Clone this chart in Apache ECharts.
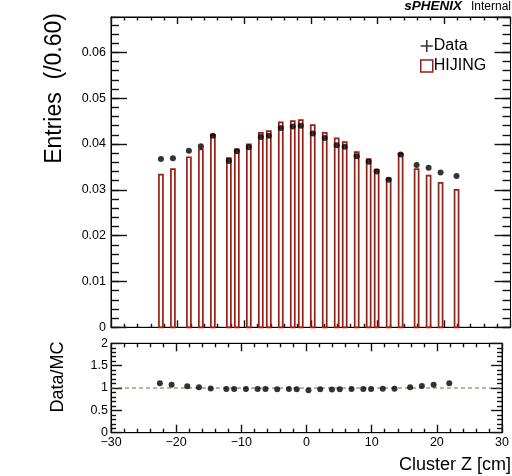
<!DOCTYPE html>
<html>
<head>
<meta charset="utf-8">
<script src="https://cdn.jsdelivr.net/npm/echarts@6/dist/echarts.min.js"></script>
<style>
html,body{margin:0;padding:0;background:#fff;}
#chart{width:512px;height:476px;}
</style>
</head>
<body>
<div id="chart"></div>
<script>
// ---- data ----
const binWidth = 0.6;
const binCenters = [-22.5, -20.7, -18.3, -16.5, -14.7, -12.3, -11.1, -9.3, -7.5, -6.3, -4.5, -2.7, -1.5, 0.3, 2.1, 3.9, 5.1, 6.9, 8.7, 9.9, 11.7, 13.5, 15.9, 17.7, 19.5, 21.9];
const mcValues = [0.0333, 0.0345, 0.0371, 0.0388, 0.0420, 0.0369, 0.0388, 0.0399, 0.0424, 0.0428, 0.0447, 0.0450, 0.0452, 0.0441, 0.0424, 0.0412, 0.0404, 0.0382, 0.0367, 0.0344, 0.0325, 0.0379, 0.0345, 0.0331, 0.0315, 0.0300];
const dataValues = [0.0367, 0.0369, 0.0385, 0.0395, 0.0418, 0.0363, 0.0384, 0.0393, 0.0415, 0.0418, 0.0435, 0.0438, 0.0440, 0.0423, 0.0413, 0.0397, 0.0394, 0.0373, 0.0361, 0.0340, 0.0322, 0.0377, 0.0354, 0.0348, 0.0338, 0.0330];
const ratioValues = [1.105, 1.074, 1.038, 1.015, 0.99, 0.98, 0.98, 0.98, 0.975, 0.975, 0.97, 0.975, 0.97, 0.95, 0.97, 0.965, 0.97, 0.975, 0.98, 0.98, 0.985, 0.985, 1.015, 1.045, 1.074, 1.105];
const refLine = [[-30, 1], [30, 1]];
const xTicks = {min: -30, max: 30, interval: 10};
const yMainRange = {min: 0, max: 0.0677, interval: 0.01, minor: 0.002};
const yRatioRange = {min: 0, max: 2, interval: 0.5};

// ---- styles ----
const FONT = 'Liberation Sans, Arial, Helvetica, sans-serif';
const RED = '#a31a10';
const TICK_W = 1.4;
const lineBlack = () => ({show: true, onZero: false, lineStyle: {color: '#000', width: 1}});
const lineHidden = () => ({show: false, onZero: false});
const tickStyle = () => ({color: '#111', width: TICK_W});

const chart = echarts.init(document.getElementById('chart'), null, {renderer: 'canvas'});

function xAx(gridIndex, position, showLabel, majLen, minLen) {
  return {
    type: 'value', gridIndex, position,
    min: xTicks.min, max: xTicks.max, interval: xTicks.interval,
    axisLine: lineBlack(),
    axisTick: {show: true, inside: true, length: majLen, lineStyle: tickStyle()},
    minorTick: {show: true, splitNumber: 5, length: minLen, lineStyle: tickStyle()},
    splitLine: {show: false},
    axisLabel: {
      show: showLabel, margin: 3, fontSize: 12.5, color: '#000', fontFamily: FONT,
      formatter: v => v < 0 ? '\u2212' + Math.abs(v) : String(v)
    }
  };
}
function yMain(position, major, showLabel) {
  return {
    type: 'value', gridIndex: 0, position,
    min: yMainRange.min, max: yMainRange.max,
    interval: major ? yMainRange.interval : yMainRange.minor,
    axisLine: major ? lineBlack() : lineHidden(),
    axisTick: {show: true, inside: true, length: major ? 16 : 8, lineStyle: tickStyle()},
    splitLine: {show: false},
    axisLabel: {
      show: showLabel, showMaxLabel: false, margin: 5, fontSize: 12.5, color: '#000', fontFamily: FONT,
      formatter: v => v === 0 ? '0' : v.toFixed(2)
    }
  };
}
function yRatio(position, showLabel) {
  return {
    type: 'value', gridIndex: 1, position,
    min: yRatioRange.min, max: yRatioRange.max, interval: yRatioRange.interval,
    axisLine: lineBlack(),
    axisTick: {show: true, inside: true, length: 11, lineStyle: tickStyle()},
    minorTick: {show: true, splitNumber: 5, length: 5, lineStyle: tickStyle()},
    splitLine: {show: false},
    axisLabel: {show: showLabel, margin: 3, fontSize: 12.5, color: '#000', fontFamily: FONT}
  };
}

const mcData = binCenters.map((z, i) => [z, mcValues[i]]);
const dData = binCenters.map((z, i) => [z, dataValues[i]]);
const rData = binCenters.map((z, i) => [z, ratioValues[i]]);

const option = {
  animation: false,
  backgroundColor: '#fff',
  grid: [
    {left: 111, top: 17, width: 399.5, height: 310.3, show: true, borderColor: '#000', borderWidth: 1, backgroundColor: 'transparent'},
    {left: 111, top: 343.3, width: 399.5, height: 89.4, show: true, borderColor: '#000', borderWidth: 1, backgroundColor: 'transparent'}
  ],
  xAxis: [
    xAx(0, 'bottom', false, 7, 3.5),
    xAx(0, 'top', false, 7, 3.5),
    xAx(1, 'bottom', true, 8, 4),
    xAx(1, 'top', false, 8, 4)
  ],
  yAxis: [
    yMain('left', true, true),
    yMain('left', false, false),
    yMain('right', true, false),
    yMain('right', false, false),
    yRatio('left', true),
    yRatio('right', false)
  ],
  legend: {
    left: 415, top: 33, orient: 'vertical',
    itemWidth: 12, itemHeight: 12, itemGap: 4,
    textStyle: {fontSize: 16, color: '#000', fontFamily: FONT, padding: [0, 0, 0, -4]},
    selectedMode: false,
    data: [
      {name: 'Data', icon: 'path://M0,5.2H12V6.8H0Z M5.2,0H6.8V12H5.2Z', itemStyle: {color: '#000', borderWidth: 0}},
      {name: 'HIJING', icon: 'rect', itemStyle: {color: '#fff', borderColor: RED, borderWidth: 1.5}}
    ]
  },
  series: [
    {
      name: 'HIJING', type: 'custom', xAxisIndex: 0, yAxisIndex: 0,
      data: mcData, encode: {x: 0, y: 1}, z: 2,
      itemStyle: {color: '#fff', borderColor: RED},
      renderItem: function (params, api) {
        const z = api.value(0), v = api.value(1);
        const p0 = api.coord([z - binWidth / 2, 0]);
        const p1 = api.coord([z + binWidth / 2, v]);
        return {
          type: 'rect',
          shape: {x: p0[0], y: p1[1], width: p1[0] - p0[0], height: p0[1] - p1[1]},
          style: {fill: 'none', stroke: RED, lineWidth: 1.7}
        };
      }
    },
    {
      name: 'Data', type: 'scatter', xAxisIndex: 0, yAxisIndex: 0,
      data: dData, symbol: 'circle', symbolSize: 6, z: 5,
      itemStyle: {color: '#000'}
    },
    {
      name: 'ref', type: 'line', xAxisIndex: 2, yAxisIndex: 4,
      data: refLine, symbol: 'none', z: 2,
      lineStyle: {color: '#a0524a', width: 1, type: [4, 3]}
    },
    {
      name: 'ratio', type: 'scatter', xAxisIndex: 2, yAxisIndex: 4,
      data: rData, symbol: 'circle', symbolSize: 6, z: 5,
      itemStyle: {color: '#000'}
    }
  ],
  graphic: [
    {type: 'text', x: 511, y: 6.5, style: {text: 'Internal', textAlign: 'right', textVerticalAlign: 'middle', font: '12px ' + FONT, fill: '#000'}},
    {type: 'text', x: 462, y: 6.5, style: {text: 'sPHENIX', textAlign: 'right', textVerticalAlign: 'middle', font: 'italic bold 13.5px ' + FONT, fill: '#000'}},
    {type: 'text', x: 55, y: 13, rotation: Math.PI / 2, style: {text: 'Entries  (/0.60)', textAlign: 'right', textVerticalAlign: 'middle', font: '23px ' + FONT, fill: '#000'}},
    {type: 'text', x: 58, y: 377, rotation: Math.PI / 2, style: {text: 'Data/MC', textAlign: 'center', textVerticalAlign: 'middle', font: '18px ' + FONT, fill: '#000'}},
    {type: 'text', x: 511, y: 465, style: {text: 'Cluster Z [cm]', textAlign: 'right', textVerticalAlign: 'middle', font: '18px ' + FONT, fill: '#000'}}
  ]
};
chart.setOption(option);
</script>
</body>
</html>
